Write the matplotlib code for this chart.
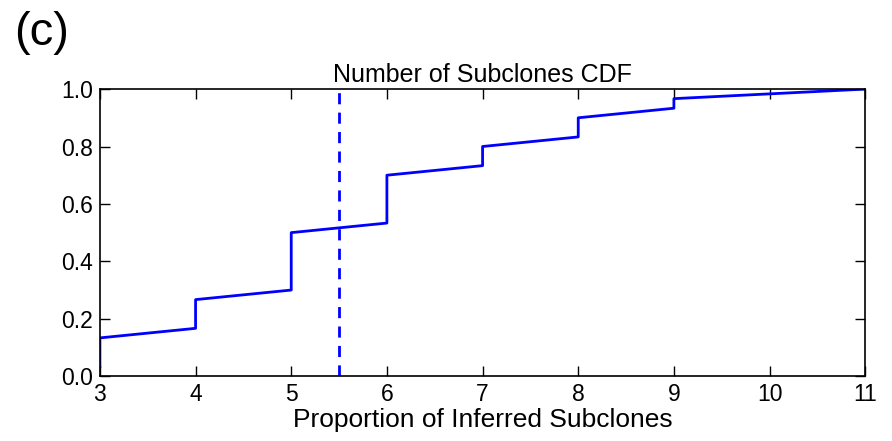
import numpy as np
import matplotlib.pyplot as plt

# numero de subclones inferidos (conteos)
subclone_values = [3, 4, 5, 6, 7, 8, 9, 11]
subclone_counts = [4, 4, 7, 6, 3, 3, 2, 1]
threshold = 5.5

x_ticks = [3, 4, 5, 6, 7, 8, 9, 10, 11]
y_ticks = [0.0, 0.2, 0.4, 0.6, 0.8, 1.0]

plt.rcParams['font.family'] = ['Liberation Sans', 'DejaVu Sans']

# CDF empirica: muestras ordenadas vs proporcion acumulada
samples = np.repeat(subclone_values, subclone_counts)
cdf = np.arange(1, len(samples) + 1) / len(samples)

fig = plt.figure(figsize=(8.92, 4.41), dpi=100)
ax = fig.add_axes([0.112, 0.147, 0.858, 0.651])

ax.plot(samples, cdf, color='blue', lw=2)
ax.plot([threshold, threshold], [0, 1], color='blue', lw=2, linestyle=(0, (4, 3)))

ax.set_xlim(3, 11)
ax.set_ylim(0, 1)
ax.set_xticks(x_ticks)
ax.set_yticks(y_ticks)
ax.set_yticklabels([f"{v:.1f}" for v in y_ticks])
ax.tick_params(direction='in', top=True, right=True, labelsize=16.5, length=7, width=1, pad=5)
for s in ax.spines.values():
    s.set_linewidth(1.2)

ax.set_title("Number of Subclones CDF", fontsize=18, pad=5)
ax.set_xlabel("Proportion of Inferred Subclones", fontsize=19, labelpad=1)

fig.text(0.016, 0.875, "(c)", fontsize=34, va='bottom')

fig.savefig("out.png", dpi=100)
